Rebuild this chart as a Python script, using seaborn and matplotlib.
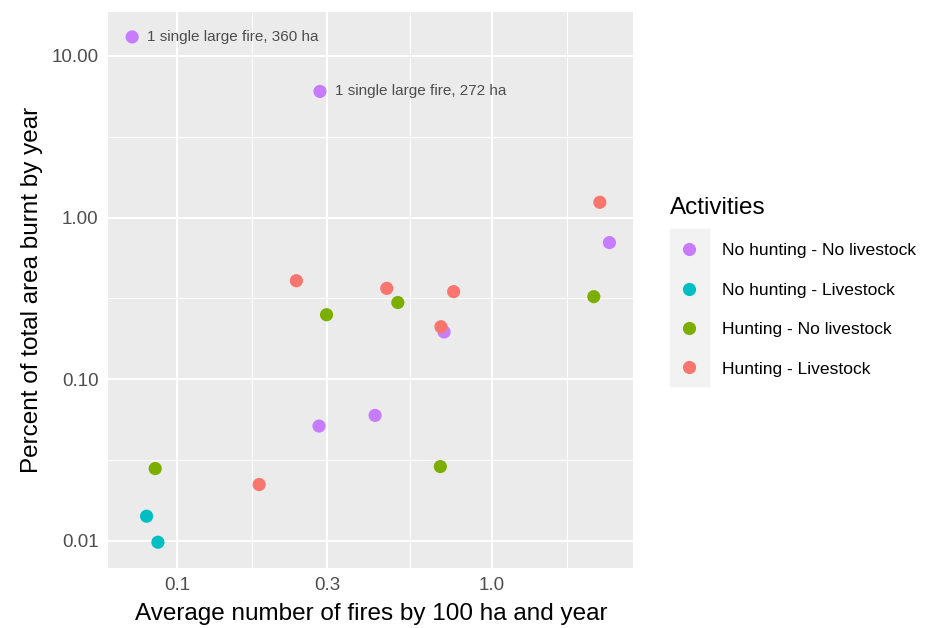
import numpy as np
import pandas as pd
import matplotlib
matplotlib.use("Agg")
import matplotlib.pyplot as plt
from matplotlib.patches import Rectangle
import seaborn as sns

# Values (log-log axes)
activities = ["No hunting - No livestock", "No hunting - Livestock",
              "Hunting - No livestock", "Hunting - Livestock"]
colors = ["#C77CFF", "#00BFC4", "#7CAE00", "#F8766D"]

nh_nl_x = [0.0719, 0.284, 2.36, 0.704, 0.282, 0.425]
nh_nl_y = [13.1, 6.03, 0.70, 0.196, 0.0513, 0.0597]
nh_l_x = [0.0799, 0.0868]
nh_l_y = [0.0142, 0.0098]
h_nl_x = [0.0851, 0.298, 0.502, 0.685, 2.105]
h_nl_y = [0.0280, 0.2505, 0.298, 0.0288, 0.324]
h_l_x = [0.239, 0.463, 0.755, 0.688, 0.182, 2.20]
h_l_y = [0.4065, 0.3645, 0.348, 0.211, 0.0223, 1.243]

# annotated points (the two single large fires)
note_labels = ["1 single large fire, 360 ha", "1 single large fire, 272 ha"]
note_x = [0.0719, 0.284]
note_y = [13.1, 6.03]

x_ticks = [0.1, 0.3, 1.0]
x_ticklabels = ["0.1", "0.3", "1.0"]
y_ticks = [0.01, 0.1, 1.0, 10.0]
y_ticklabels = ["0.01", "0.10", "1.00", "10.00"]

df = pd.concat([
    pd.DataFrame({"x": nh_nl_x, "y": nh_nl_y, "Activities": activities[0]}),
    pd.DataFrame({"x": nh_l_x, "y": nh_l_y, "Activities": activities[1]}),
    pd.DataFrame({"x": h_nl_x, "y": h_nl_y, "Activities": activities[2]}),
    pd.DataFrame({"x": h_l_x, "y": h_l_y, "Activities": activities[3]}),
], ignore_index=True)

sns.set_style("darkgrid", {"axes.facecolor": "#EBEBEB", "grid.color": "white"})
plt.rcParams['font.family'] = ['Liberation Sans', 'DejaVu Sans']
plt.rcParams['text.color'] = 'black'
plt.rcParams['axes.labelcolor'] = 'black'

fig = plt.figure(figsize=(9.48, 6.28), dpi=100)
ax = fig.add_axes([108.3 / 948, 1 - 567.5 / 628, 525 / 948, 555.8 / 628])

sns.scatterplot(data=df, x="x", y="y", hue="Activities", hue_order=activities,
                palette=colors, s=90, linewidth=0, ax=ax, zorder=3)
ax.set_xscale("log")
ax.set_yscale("log")

# ggplot-like 5% expansion in log space
def expand(vals):
    lv = np.log10(vals)
    pad = (lv.max() - lv.min()) * 0.05
    return 10 ** (lv.min() - pad), 10 ** (lv.max() + pad)

ax.set_xlim(*expand(df["x"].values))
ax.set_ylim(*expand(df["y"].values))

ax.set_xticks(x_ticks)
ax.set_xticklabels(x_ticklabels)
ax.set_yticks(y_ticks)
ax.set_yticklabels(y_ticklabels)
ax.set_xticks([np.sqrt(0.1 * 0.3), np.sqrt(0.3 * 1.0), np.sqrt(3.0)], minor=True)
ax.set_yticks([10 ** -1.5, 10 ** -0.5, 10 ** 0.5], minor=True)
ax.tick_params(which="minor", length=0, labelbottom=False, labelleft=False)
ax.tick_params(which="major", length=4, width=1.1, color="#333333",
               labelsize=13.5, labelcolor="#4D4D4D", pad=3)
ax.grid(which="major", color="white", linewidth=1.5)
ax.grid(which="minor", color="white", linewidth=0.75)
for sp in ax.spines.values():
    sp.set_visible(False)

for lab, x, y in zip(note_labels, note_x, note_y):
    ax.annotate(lab, (x, y), xytext=(10.5, 0), textcoords="offset points",
                ha="left", va="center", fontsize=11, color="#4D4D4D")

ax.set_xlabel("Average number of fires by 100 ha and year", fontsize=17.5, labelpad=6)
ax.set_ylabel("Percent of total area burnt by year", fontsize=17.5, labelpad=6)

handles, labels = ax.get_legend_handles_labels()
leg = ax.legend(handles, labels, title="Activities", loc="upper left",
                bbox_to_anchor=(670 / 948, 1 - 197 / 628), bbox_transform=fig.transFigure,
                frameon=False, borderpad=0, borderaxespad=0, fontsize=12.6,
                title_fontsize=17.5, alignment="left", handlelength=2.15,
                handletextpad=0.82, labelspacing=1.38, markerscale=1.0)
fig.add_artist(Rectangle((670 / 948, 1 - 386 / 628), 39 / 948, 157 / 628,
                         transform=fig.transFigure, color="#F2F2F2", zorder=-1))

fig.savefig("out.png", dpi=100)
